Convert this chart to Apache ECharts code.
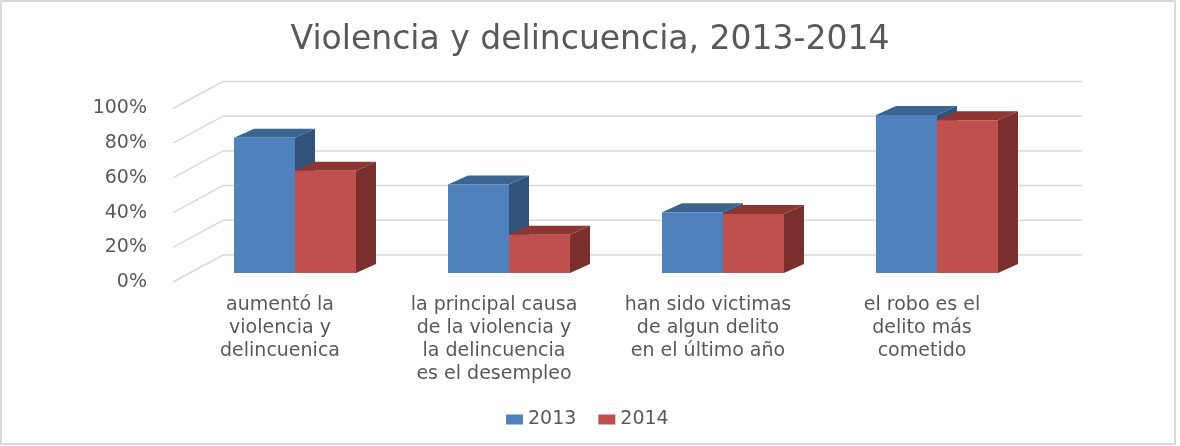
<!DOCTYPE html>
<html>
<head>
<meta charset="utf-8">
<script src="https://cdn.jsdelivr.net/npm/echarts@6/dist/echarts.min.js"></script>
<style>
    html, body { margin: 0; padding: 0; background: #fff; }
    #chart { width: 1180px; height: 446px; }
</style>
</head>
<body>
<div id="chart"></div>
<script>
(function () {

    var categories = [
        'aumentó la\nviolencia y\ndelincuenica',
        'la principal causa\nde la violencia y\nla delincuencia\nes el desempleo',
        'han sido victimas\nde algun delito\nen el último año',
        'el robo es el\ndelito más\ncometido'
    ];
    var values2013 = [78, 51, 35, 91];
    var values2014 = [59, 22, 34, 88];
    var ticks = [0, 20, 40, 60, 80, 100];

    var FONT = 'DejaVu Sans';
    var TEXT = '#595959';
    var GRID_LINE = '#d9d9d9';

    // depth of the bars and of the back wall (oblique 3D look)
    var BAR_DX = 20, BAR_DY = -9;
    var FRONT_DX = -15, FRONT_DY = 9;
    var BACK_DX = 35, BACK_DY = -18;

    function boxRenderer(left, front, topColor, sideColor) {
        return function (params, api) {
            var i = api.value(0);
            var base = api.coord([i, 0]);
            var top = api.coord([i, api.value(1)]);
            var w = api.size([1, 0])[0] * 0.285;
            var x0 = left ? base[0] - w : base[0];
            var x1 = x0 + w;
            var yt = top[1], yb = base[1];
            return {
                type: 'group',
                children: [
                    {
                        type: 'polygon',
                        shape: { points: [[x1, yt], [x1 + BAR_DX, yt + BAR_DY], [x1 + BAR_DX, yb + BAR_DY], [x1, yb]] },
                        style: { fill: sideColor }
                    },
                    {
                        type: 'polygon',
                        shape: { points: [[x0, yt], [x1, yt], [x1 + BAR_DX, yt + BAR_DY], [x0 + BAR_DX, yt + BAR_DY]] },
                        style: { fill: topColor }
                    },
                    {
                        type: 'rect',
                        shape: { x: x0, y: yt, width: w, height: yb - yt },
                        style: { fill: front }
                    }
                ]
            };
        };
    }

    function wallRenderer(params, api) {
        var cs = params.coordSys;
        var y = api.coord([0, api.value(1)])[1];
        return {
            type: 'polyline',
            shape: {
                points: [
                    [cs.x + FRONT_DX, y + FRONT_DY],
                    [cs.x + BACK_DX, y + BACK_DY],
                    [cs.x + cs.width + BACK_DX + 3, y + BACK_DY]
                ]
            },
            style: { stroke: GRID_LINE, lineWidth: 1.5, fill: null }
        };
    }

    var chart = echarts.init(document.getElementById('chart'));

    chart.setOption({
        animation: false,
        backgroundColor: '#fff',
        textStyle: { fontFamily: FONT },
        title: {
            text: 'Violencia y delincuencia, 2013-2014',
            left: 'center',
            top: 19,
            textStyle: { fontFamily: FONT, fontSize: 33, fontWeight: 'normal', color: TEXT }
        },
        graphic: [{
            type: 'rect',
            shape: { x: 1, y: 1, width: 1174, height: 443 },
            style: { fill: null, stroke: GRID_LINE, lineWidth: 2 },
            silent: true
        }],
        legend: {
            data: ['2013', '2014'],
            left: 501,
            top: 405,
            icon: 'rect',
            itemWidth: 17,
            itemHeight: 10,
            itemGap: 22,
            textStyle: { fontFamily: FONT, fontSize: 19, color: TEXT }
        },
        grid: [
            // plane of the bars
            { left: 188, right: 136, top: 99.5, bottom: 173 },
            // front plane: axis labels
            { left: 173, right: 151, top: 108.5, bottom: 164 }
        ],
        xAxis: [
            { type: 'category', gridIndex: 0, data: categories, show: false },
            {
                type: 'category', gridIndex: 1, data: categories,
                axisLine: { show: false }, axisTick: { show: false },
                axisLabel: { interval: 0, margin: 12, fontFamily: FONT, fontSize: 19, lineHeight: 23, color: TEXT }
            }
        ],
        yAxis: [
            { type: 'value', gridIndex: 0, min: 0, max: 100, show: false },
            {
                type: 'value', gridIndex: 1, min: 0, max: 100, interval: 20,
                axisLine: { show: false }, axisTick: { show: false }, splitLine: { show: false },
                axisLabel: { formatter: '{value}%', margin: 26, fontFamily: FONT, fontSize: 19, color: TEXT }
            }
        ],
        series: [
            {
                type: 'custom',
                name: 'walls',
                xAxisIndex: 0, yAxisIndex: 0,
                silent: true,
                z: 1,
                renderItem: wallRenderer,
                data: ticks.map(function (t) { return [0, t]; })
            },
            {
                type: 'custom',
                name: '2013',
                xAxisIndex: 0, yAxisIndex: 0,
                z: 2,
                itemStyle: { color: '#4f81bd' },
                renderItem: boxRenderer(true, '#4f81bd', '#3b6491', '#30527b'),
                data: values2013.map(function (v, i) { return [i, v]; })
            },
            {
                type: 'custom',
                name: '2014',
                xAxisIndex: 0, yAxisIndex: 0,
                z: 3,
                itemStyle: { color: '#c0504d' },
                renderItem: boxRenderer(false, '#c0504d', '#8e3632', '#7a2f2d'),
                data: values2014.map(function (v, i) { return [i, v]; })
            }
        ]
    });

})();
</script>
</body>
</html>
